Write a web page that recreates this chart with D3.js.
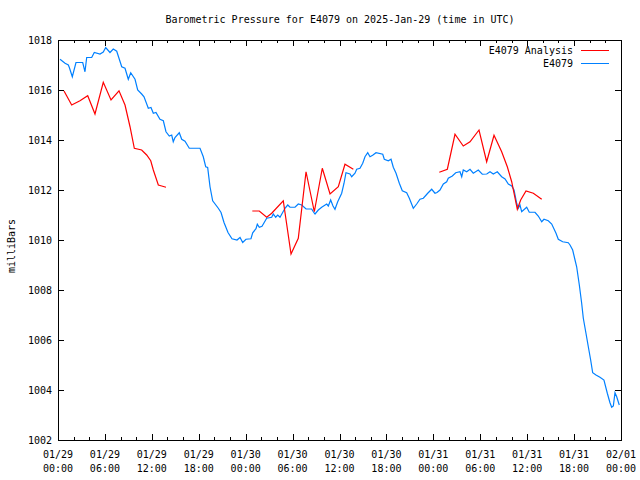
<!DOCTYPE html>
<html><head><meta charset="utf-8">
<script src="https://cdn.jsdelivr.net/npm/d3@7"></script>
<style>
html,body{margin:0;padding:0;background:#fff;}
svg{display:block;}
text{font-family:"DejaVu Sans Mono","Liberation Mono",monospace;font-size:10px;fill:#000;}
</style></head>
<body><svg id="c" width="640" height="480"></svg>
<script>
// hours since 2025-01-29 00:00 UTC
const stationHours = [0.26,0.90,1.32,1.45,1.83,2.30,3.16,3.45,3.67,4.31,4.64,5.37,5.79,6.10,6.65,7.07,7.51,8.15,8.57,8.99,9.30,9.85,10.19,10.70,11.00,11.55,11.89,12.19,12.53,13.04,13.47,13.81,14.23,14.54,14.74,14.96,15.51,15.82,16.24,16.79,18.16,18.58,18.89,19.14,19.44,19.78,20.50,20.85,21.23,21.74,22.25,22.89,23.28,23.62,24.04,24.68,24.90,25.32,25.49,25.74,26.09,26.69,27.33,27.53,27.84,28.10,28.39,29.03,29.38,29.67,30.31,30.73,31.17,31.72,32.44,32.65,32.87,33.29,33.72,34.36,34.57,34.87,35.17,35.42,35.77,36.28,36.58,36.83,37.34,37.56,37.98,38.20,38.62,38.97,39.26,39.61,39.90,40.24,40.67,41.53,41.73,42.24,42.59,42.88,43.23,43.65,44.03,44.59,44.93,45.44,45.87,46.29,46.72,47.28,47.79,48.21,48.47,48.85,49.28,49.71,49.91,50.43,50.86,51.41,51.63,51.83,52.27,52.69,53.11,53.75,54.26,54.83,55.25,55.67,56.18,56.74,57.17,57.59,58.02,58.32,58.66,58.87,59.08,59.30,59.94,60.27,61.00,61.42,61.86,62.15,62.70,63.14,63.69,63.98,64.54,65.26,65.48,65.82,66.12,66.33,66.67,66.97,67.18,67.52,67.82,68.12,68.38,68.80,69.31,69.82,70.25,70.59,70.81,71.02,71.23,71.45,71.78];
const stationPressure = [1017.23,1017.07,1017.0,1016.9,1016.53,1017.1,1017.1,1016.73,1017.3,1017.3,1017.5,1017.44,1017.52,1017.7,1017.5,1017.64,1017.55,1016.93,1016.87,1016.43,1016.69,1016.43,1016.0,1015.84,1015.73,1015.27,1015.3,1015.07,1015.1,1014.83,1014.77,1014.33,1014.16,1014.2,1013.93,1014.1,1014.29,1014.03,1013.95,1013.67,1013.67,1013.33,1012.93,1012.9,1012.13,1011.57,1011.27,1011.1,1010.7,1010.3,1010.05,1010.0,1010.1,1009.9,1010.03,1010.05,1010.29,1010.45,1010.63,1010.51,1010.55,1010.87,1010.91,1011.04,1010.91,1011.0,1010.91,1011.27,1011.4,1011.31,1011.31,1011.44,1011.4,1011.24,1011.24,1011.13,1011.04,1011.2,1011.31,1011.44,1011.36,1011.6,1011.36,1011.23,1011.53,1011.87,1012.27,1012.69,1012.64,1012.53,1012.67,1012.83,1012.87,1013.07,1013.33,1013.49,1013.33,1013.39,1013.49,1013.43,1013.23,1013.17,1013.23,1012.91,1012.67,1012.27,1011.97,1011.89,1011.67,1011.27,1011.44,1011.63,1011.67,1011.87,1012.03,1011.87,1011.9,1012.0,1012.24,1012.33,1012.47,1012.56,1012.69,1012.73,1012.53,1012.8,1012.73,1012.83,1012.67,1012.8,1012.63,1012.64,1012.73,1012.64,1012.73,1012.53,1012.44,1012.24,1012.16,1012.0,1011.47,1011.27,1011.4,1011.13,1011.31,1011.11,1011.11,1010.96,1010.73,1010.83,1010.77,1010.64,1010.27,1010.03,1009.93,1009.89,1009.8,1009.6,1009.2,1008.93,1008.2,1007.47,1006.87,1006.27,1005.73,1005.2,1004.69,1004.6,1004.51,1004.4,1003.87,1003.49,1003.31,1003.36,1003.89,1003.73,1003.4];

// analysis: null marks a gap
const analysisHours = [0.77,1.75,2.81,3.80,4.73,5.79,6.78,7.80,8.57,9.21,9.76,10.70,11.34,11.86,12.19,12.83,13.26,13.81,null,24.85,25.74,26.69,27.33,28.81,29.80,30.73,31.72,32.78,33.80,34.79,35.85,36.70,37.77,null,48.76,49.79,50.77,51.83,52.69,53.84,54.82,55.76,56.74,57.46,58.02,58.74,59.17,59.85,60.79,61.86];
const analysisPressure = [1015.96,1015.4,1015.57,1015.77,1015.04,1016.31,1015.6,1015.97,1015.4,1014.53,1013.67,1013.6,1013.4,1013.17,1012.8,1012.2,1012.16,1012.11,null,1011.16,1011.16,1010.91,1011.07,1011.57,1009.44,1010.07,1012.73,1011.13,1012.87,1011.84,1012.13,1013.03,1012.83,null,1012.71,1012.83,1014.23,1013.76,1013.93,1014.4,1013.13,1014.19,1013.53,1012.93,1012.33,1011.23,1011.6,1011.96,1011.87,1011.63];

const yTicks = [1002,1004,1006,1008,1010,1012,1014,1016,1018];
const seriesNames = ["E4079 Analysis","E4079"];
const seriesColors = ["#ff0000","#0080ff"];
const titleText = "Barometric Pressure for E4079 on 2025-Jan-29 (time in UTC)";
const yLabel = "milliBars";

const t0 = Date.UTC(2025,0,29);
const toDate = h => new Date(t0 + h*3600000);

const L=58, R=621, T=40, B=440;
const svg = d3.select("#c");
const x = d3.scaleUtc().domain([toDate(0), toDate(72)]).range([L,R]);
const y = d3.scaleLinear().domain([1002,1018]).range([B,T]);

// ticks
const major = x.ticks(d3.utcHour.every(6));
const minor = x.ticks(d3.utcHour.every(2)).filter(d => d.getUTCHours()%6 !== 0);
const g = svg.append("g").attr("stroke","#000").attr("stroke-width",1).attr("shape-rendering","crispEdges");
major.forEach(d=>{
  const xx = Math.round(x(d))+0.5;
  g.append("line").attr("x1",xx).attr("x2",xx).attr("y1",B).attr("y2",B-6);
  g.append("line").attr("x1",xx).attr("x2",xx).attr("y1",T).attr("y2",T+6);
});
minor.forEach(d=>{
  const xx = Math.round(x(d))+0.5;
  g.append("line").attr("x1",xx).attr("x2",xx).attr("y1",B).attr("y2",B-3);
  g.append("line").attr("x1",xx).attr("x2",xx).attr("y1",T).attr("y2",T+3);
});
yTicks.forEach(v=>{
  const yy = Math.round(y(v))+0.5;
  g.append("line").attr("x1",L).attr("x2",L+6).attr("y1",yy).attr("y2",yy);
  g.append("line").attr("x1",R).attr("x2",R-6).attr("y1",yy).attr("y2",yy);
});

// tick labels
const fmtD = d3.utcFormat("%m/%d"), fmtH = d3.utcFormat("%H:%M");
major.forEach(d=>{
  const t = svg.append("text").attr("text-anchor","middle").attr("x",x(d));
  t.append("tspan").attr("x",x(d)).attr("y",458).text(fmtD(d));
  t.append("tspan").attr("x",x(d)).attr("y",472).text(fmtH(d));
});
yTicks.forEach(v=>{
  svg.append("text").attr("text-anchor","end").attr("x",52).attr("y",y(v)+4).text(v);
});

// data lines
const stationData = stationHours.map((h,i)=>({h, p:stationPressure[i]}));
const analysisData = analysisHours.map((h,i)=>({h, p:analysisPressure[i]}));
const line = d3.line().defined(d=>d.h!==null && d.p!==null).x(d=>x(toDate(d.h))).y(d=>y(d.p));
const plot = svg.append("g");
plot.append("path").datum(stationData).attr("d",line).attr("fill","none").attr("stroke",seriesColors[1]).attr("stroke-width",1.2);
plot.append("path").datum(analysisData).attr("d",line).attr("fill","none").attr("stroke",seriesColors[0]).attr("stroke-width",1.2);

// border
svg.append("rect").attr("x",L+0.5).attr("y",T+0.5).attr("width",R-L).attr("height",B-T)
  .attr("fill","none").attr("stroke","#000").attr("shape-rendering","crispEdges");

// title & labels
svg.append("text").attr("x",340).attr("y",23).attr("text-anchor","middle").text(titleText);
svg.append("text").attr("transform","translate(15,246) rotate(-90)").attr("text-anchor","middle").text(yLabel);

// legend
seriesNames.forEach((n,i)=>{
  const yy = 50 + i*13;
  svg.append("text").attr("x",573).attr("y",yy+4).attr("text-anchor","end").text(n);
  svg.append("line").attr("x1",581).attr("x2",609).attr("y1",yy+0.5).attr("y2",yy+0.5)
    .attr("stroke",seriesColors[i]).attr("stroke-width",1).attr("shape-rendering","crispEdges");
});
</script></body></html>
